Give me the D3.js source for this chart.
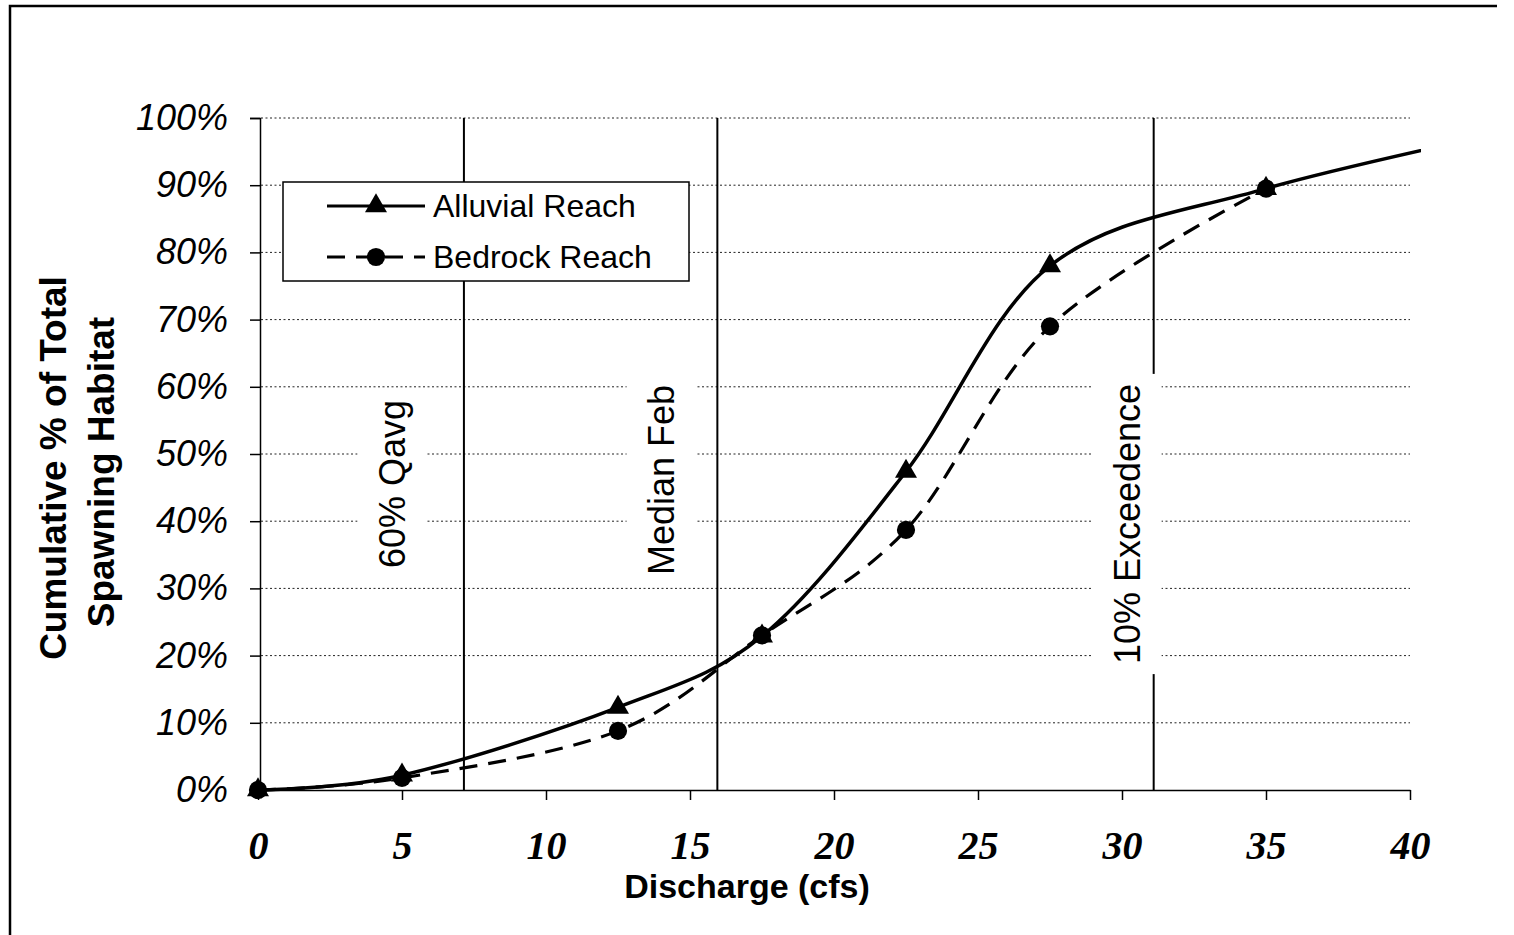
<!DOCTYPE html>
<html>
<head>
<meta charset="utf-8">
<script src="https://cdn.jsdelivr.net/npm/d3@7"></script>
<style>
  html, body { margin: 0; padding: 0; background: #fff; }
  svg { display: block; }
</style>
</head>
<body>
<svg id="chart" width="1514" height="935"></svg>
<script>
// ---- data ----
const dischargeAlluvial = [0, 5, 12.5, 17.5, 22.5, 27.5, 35, 45];
const alluvialReach     = [0, 0.022, 0.123, 0.229, 0.474, 0.78, 0.895, 0.995];
const dischargeBedrock  = [0, 5, 12.5, 17.5, 22.5, 27.5, 35];
const bedrockReach      = [0, 0.018, 0.088, 0.23, 0.387, 0.69, 0.895];
const refFlows  = [7.15, 15.95, 31.1];
const refLabels = ["60% Qavg", "Median Feb", "10% Exceedence"];
const xTicks = [0, 5, 10, 15, 20, 25, 30, 35, 40];
const yTicks = [0, 0.1, 0.2, 0.3, 0.4, 0.5, 0.6, 0.7, 0.8, 0.9, 1.0];
const seriesNames = ["Alluvial Reach", "Bedrock Reach"];

// ---- layout ----
const L = 258, R = 1410, T = 118, B = 790;
const svg = d3.select("#chart");
const x = d3.scaleLinear().domain([0, 40]).range([L, R]);
const y = d3.scaleLinear().domain([0, 1]).range([B, T]);
const sans = "'Liberation Sans', Arial, sans-serif";
const serif = "'Liberation Serif', 'Times New Roman', serif";

// outer frame (partial, as in scan)
svg.append("path").attr("d", "M10,935 L10,6 L1497,6")
  .attr("fill", "none").attr("stroke", "#000").attr("stroke-width", 2.5);

// gridlines
svg.append("g").selectAll("line").data(yTicks.filter(d => d > 0)).join("line")
  .attr("x1", L + 3).attr("x2", R)
  .attr("y1", d => y(d)).attr("y2", d => y(d))
  .attr("stroke", "#222").attr("stroke-width", 1).attr("stroke-dasharray", "2,2.5");

// reference vertical lines
svg.append("g").selectAll("line").data(refFlows).join("line")
  .attr("x1", d => x(d)).attr("x2", d => x(d))
  .attr("y1", T).attr("y2", B)
  .attr("stroke", "#000").attr("stroke-width", 2);

// reference labels with white boxes
const labelPos = [{cx: 392, cy: 484}, {cx: 661, cy: 480}, {cx: 1127, cy: 524}];
refLabels.forEach((lab, i) => {
  const g = svg.append("g").attr("transform", `translate(${labelPos[i].cx},${labelPos[i].cy}) rotate(-90)`);
  const rect = g.append("rect").attr("fill", "#fff");
  const t = g.append("text").text(lab)
    .attr("text-anchor", "middle").attr("dy", "0.35em")
    .attr("font-family", sans).attr("font-size", 36).attr("fill", "#000");
  const bb = t.node().getBBox();
  rect.attr("x", bb.x - 10).attr("y", bb.y - 14).attr("width", bb.width + 20).attr("height", bb.height + 28);
});

// axes
const yAxis = svg.append("g").attr("transform", `translate(${L + 2},0)`)
  .call(d3.axisLeft(y).tickValues(yTicks).tickSize(10).tickFormat(d3.format(".0%")));
yAxis.select(".domain").attr("stroke", "#000").attr("stroke-width", 1.5);
yAxis.selectAll(".tick line").attr("stroke", "#000").attr("stroke-width", 1.5);
yAxis.selectAll(".tick text").attr("font-family", sans).attr("font-style", "italic")
  .attr("font-size", 36).attr("fill", "#000").attr("x", -32);

const xAxis = svg.append("g").attr("transform", `translate(0,${B})`)
  .call(d3.axisBottom(x).tickValues(xTicks).tickSize(10).tickSizeOuter(0));
xAxis.select(".domain").attr("stroke", "#000").attr("stroke-width", 1.5);
xAxis.selectAll(".tick line").attr("stroke", "#000").attr("stroke-width", 1.5);
xAxis.selectAll(".tick text").attr("font-family", serif).attr("font-style", "italic")
  .attr("font-weight", "bold").attr("font-size", 40).attr("fill", "#000")
  .attr("y", 41).attr("dy", "0.71em");

// axis titles
svg.append("text").text("Discharge (cfs)")
  .attr("x", 747).attr("y", 898).attr("text-anchor", "middle")
  .attr("font-family", sans).attr("font-weight", "bold").attr("font-size", 34);
svg.append("text").text("Cumulative % of Total")
  .attr("transform", "translate(66,468) rotate(-90)").attr("text-anchor", "middle")
  .attr("font-family", sans).attr("font-weight", "bold").attr("font-size", 37);
svg.append("text").text("Spawning Habitat")
  .attr("transform", "translate(114,472) rotate(-90)").attr("text-anchor", "middle")
  .attr("font-family", sans).attr("font-weight", "bold").attr("font-size", 37);

// clip for series
svg.append("clipPath").attr("id", "clip").append("rect")
  .attr("x", L - 20).attr("y", 0).attr("width", 1421 - (L - 20)).attr("height", 935);

const line = d3.line().x(d => x(d[0])).y(d => y(d[1])).curve(d3.curveCatmullRom.alpha(0));
const alluvialPts = dischargeAlluvial.map((d, i) => [d, alluvialReach[i]]);
const bedrockPts = dischargeBedrock.map((d, i) => [d, bedrockReach[i]]);

const plot = svg.append("g").attr("clip-path", "url(#clip)");
plot.append("path").datum(bedrockPts).attr("d", line)
  .attr("fill", "none").attr("stroke", "#000").attr("stroke-width", 3.2)
  .attr("stroke-dasharray", "18,11");
plot.append("path").datum(alluvialPts).attr("d", line)
  .attr("fill", "none").attr("stroke", "#000").attr("stroke-width", 3.5);

const tri = d3.symbol().type(d3.symbolTriangle).size(210);
const circ = d3.symbol().type(d3.symbolCircle).size(260);
plot.selectAll(".m1").data(alluvialPts).join("path")
  .attr("transform", d => `translate(${x(d[0])},${y(d[1])})`).attr("d", tri).attr("fill", "#000");
plot.selectAll(".m2").data(bedrockPts).join("path")
  .attr("transform", d => `translate(${x(d[0])},${y(d[1])})`).attr("d", circ).attr("fill", "#000");

// legend
const lg = svg.append("g");
lg.append("rect").attr("x", 283).attr("y", 182).attr("width", 406).attr("height", 99)
  .attr("fill", "#fff").attr("stroke", "#000").attr("stroke-width", 1.5);
const rows = [
  {y: 206, dash: null, sym: tri},
  {y: 257, dash: "18,11", sym: circ}
];
rows.forEach((r, i) => {
  const ln = lg.append("line").attr("x1", 327).attr("x2", 425).attr("y1", r.y).attr("y2", r.y)
    .attr("stroke", "#000").attr("stroke-width", 3);
  if (r.dash) ln.attr("stroke-dasharray", "18,11");
  lg.append("path").attr("transform", `translate(376,${r.y})`).attr("d", r.sym).attr("fill", "#000");
  lg.append("text").text(seriesNames[i]).attr("x", 433).attr("y", r.y + 11)
    .attr("font-family", sans).attr("font-size", 32).attr("fill", "#000");
});
</script>
</body>
</html>
